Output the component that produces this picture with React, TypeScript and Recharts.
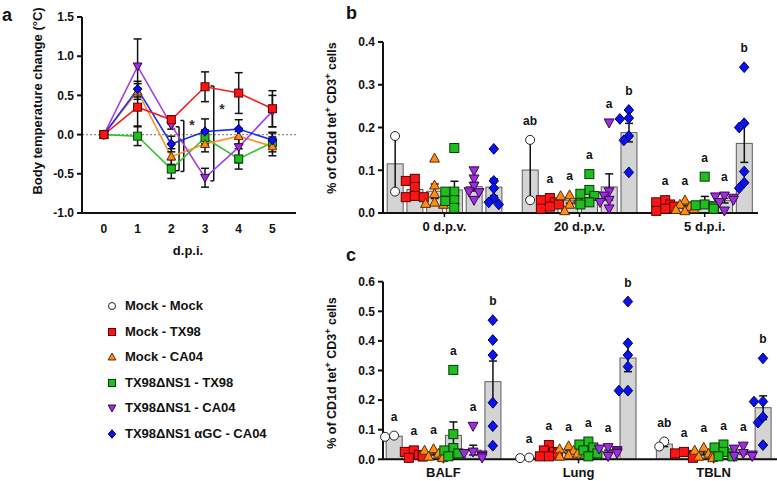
import React from 'react';
import {
  LineChart, Line, XAxis, YAxis, ErrorBar, ReferenceLine, ReferenceDot,
  ComposedChart, Bar, Scatter, Label,
} from 'recharts';

const FONT = '"Liberation Sans", Arial, Helvetica, sans-serif';
const INK = '#111';

// ---------- panel a: body temperature change (mean, SEM) ----------
const dpi = [0, 1, 2, 3, 4, 5];
const tempMockTX98 = [0, 0.35, 0.19, 0.61, 0.53, 0.33];
const tempMockTX98Err = [0, 0.24, 0.05, 0.19, 0.26, 0.23];
const tempMockCA04 = [0, 0.55, -0.28, -0.12, -0.02, -0.15];
const tempMockCA04Err = [0, 0.1, 0.1, 0.1, 0.1, 0.12];
const tempNsTX98 = [0, -0.02, -0.44, -0.04, -0.31, -0.1];
const tempNsTX98Err = [0, 0.12, 0.12, 0.1, 0.13, 0.12];
const tempNsCA04 = [0, 0.87, 0.12, -0.55, -0.16, 0.3];
const tempNsCA04Err = [0, 0.35, 0.05, 0.12, 0.2, 0.2];
const tempNsAgc = [0, 0.58, -0.12, 0.04, 0.07, -0.07];
const tempNsAgcErr = [0, 0.1, 0.1, 0.16, 0.12, 0.1];

// ---------- panel b: % CD1d tet+ CD3+ in blood (individual animals) ----------
const bCategories = ['0 d.p.v.', '20 d.p.v.', '5 d.p.i.'];
const bMockMock = [[0.18, 0.05], [0.171, 0.03], null];
const bMockTX98 = [[0.08, 0.075, 0.061, 0.04, 0.037, 0.037], [0.035, 0.03, 0.025, 0.02, 0.015, 0.01], [0.03, 0.025, 0.02, 0.015, 0.01, 0.005]];
const bMockCA04 = [[0.128, 0.065, 0.045, 0.025, 0.022, 0.02], [0.042, 0.04, 0.035, 0.03, 0.02, 0.005], [0.03, 0.02, 0.015, 0.01, 0.008, 0.005]];
const bNsTX98 = [[0.152, 0.05, 0.05, 0.03, 0.028, 0.012], [0.091, 0.054, 0.045, 0.04, 0.025, 0.02], [0.085, 0.02, 0.018, 0.015, 0.015, 0.01]];
const bNsCA04 = [[0.099, 0.08, 0.063, 0.05, 0.048, 0.03], [0.211, 0.05, 0.04, 0.03, 0.025, 0.01], [0.04, 0.038, 0.035, 0.03, 0.025, 0.005]];
const bNsAgc = [[0.15, 0.075, 0.058, 0.035, 0.025, 0.02], [0.241, 0.222, 0.22, 0.18, 0.17, 0.095], [0.341, 0.21, 0.2, 0.097, 0.071, 0.058]];
const bLetters = [['', '', '', '', '', ''], ['ab', 'a', 'a', 'a', 'a', 'b'], ['', 'a', 'a', 'a', 'a', 'b']];

// ---------- panel c: % CD1d tet+ CD3+ in tissues ----------
const cCategories = ['BALF', 'Lung', 'TBLN'];
const cMockMock = [[0.08, 0.076], [0.006, 0.004], [0.06, 0.043]];
const cMockTX98 = [[0.03, 0.025, 0.015, 0.01, 0.01, 0.005], [0.048, 0.03, 0.025, 0.02, 0.01, 0.01], [0.025, 0.02, 0.015, 0.01, 0.008, 0.005]];
const cMockCA04 = [[0.035, 0.03, 0.02, 0.015, 0.01, 0.005], [0.045, 0.035, 0.03, 0.02, 0.015, 0.01], [0.04, 0.03, 0.02, 0.015, 0.01, 0.005]];
const cNsTX98 = [[0.302, 0.085, 0.038, 0.03, 0.02, 0.01], [0.06, 0.05, 0.04, 0.03, 0.02, 0.01], [0.05, 0.04, 0.025, 0.02, 0.01, 0.01]];
const cNsCA04 = [[0.112, 0.025, 0.02, 0.015, 0.01, 0.005], [0.04, 0.035, 0.03, 0.025, 0.02, 0.01], [0.045, 0.035, 0.02, 0.015, 0.01, 0.01]];
const cNsAgc = [[0.47, 0.403, 0.352, 0.191, 0.112, 0.046], [0.533, 0.392, 0.352, 0.313, 0.232, 0.232], [0.341, 0.195, 0.195, 0.143, 0.124, 0.048]];
const cLetters = [['a', 'a', 'a', 'a', 'a', 'b'], ['a', 'a', 'a', 'a', 'a', 'b'], ['ab', 'a', 'a', 'a', 'a', 'b']];

type SeriesKey = 'mockMock' | 'mockTX98' | 'mockCA04' | 'nsTX98' | 'nsCA04' | 'nsAgc';
const seriesOrder: SeriesKey[] = ['mockMock', 'mockTX98', 'mockCA04', 'nsTX98', 'nsCA04', 'nsAgc'];
const seriesLabels = ['Mock - Mock', 'Mock - TX98', 'Mock - CA04', 'TX98\u0394NS1 - TX98', 'TX98\u0394NS1 - CA04', 'TX98\u0394NS1 \u03b1GC - CA04'];

const STYLE: Record<SeriesKey, { fill: string; stroke: string; line: string; shape: string }> = {
  mockMock: { fill: '#ffffff', stroke: '#222222', line: '#222222', shape: 'circle' },
  mockTX98: { fill: '#ff1414', stroke: '#5a0000', line: '#f21d1d', shape: 'square' },
  mockCA04: { fill: '#ff8c17', stroke: '#5a2e00', line: '#ff8f26', shape: 'up' },
  nsTX98: { fill: '#1fbd1f', stroke: '#063d06', line: '#2fc42f', shape: 'square' },
  nsCA04: { fill: '#a12be0', stroke: '#35084f', line: '#a63ee2', shape: 'down' },
  nsAgc: { fill: '#0a12f2', stroke: '#000050', line: '#1a2ef2', shape: 'diamond' },
};

const Marker = ({ cx, cy, k, s = 9 }: any) => {
  if (cx == null || cy == null || isNaN(cx) || isNaN(cy)) return null;
  const st = STYLE[k as SeriesKey];
  const c = { fill: st.fill, stroke: st.stroke, strokeWidth: 1 };
  const h = s / 2;
  switch (st.shape) {
    case 'circle':
      return <circle cx={cx} cy={cy} r={h} {...c} />;
    case 'square':
      return <rect x={cx - h} y={cy - h} width={s} height={s} {...c} />;
    case 'up':
      return <polygon points={`${cx},${cy - h * 1.15} ${cx + h * 1.1},${cy + h * 0.85} ${cx - h * 1.1},${cy + h * 0.85}`} {...c} />;
    case 'down':
      return <polygon points={`${cx},${cy + h * 1.15} ${cx + h * 1.1},${cy - h * 0.85} ${cx - h * 1.1},${cy - h * 0.85}`} {...c} />;
    default:
      return <polygon points={`${cx},${cy - h * 1.2} ${cx + h * 1.05},${cy} ${cx},${cy + h * 1.2} ${cx - h * 1.05},${cy}`} {...c} />;
  }
};

const tickStyle = { fill: INK, fontSize: 12, fontWeight: 700, fontFamily: FONT };
const axisLine = { stroke: INK, strokeWidth: 2 };

// ---------- panel a rows ----------
const tempSeries: { k: SeriesKey; v: number[]; e: number[] }[] = [
  { k: 'nsTX98', v: tempNsTX98, e: tempNsTX98Err },
  { k: 'mockCA04', v: tempMockCA04, e: tempMockCA04Err },
  { k: 'nsCA04', v: tempNsCA04, e: tempNsCA04Err },
  { k: 'nsAgc', v: tempNsAgc, e: tempNsAgcErr },
  { k: 'mockTX98', v: tempMockTX98, e: tempMockTX98Err },
];
const tempRows = dpi.map((d, i) => {
  const r: any = { day: d };
  tempSeries.forEach((s) => {
    r[s.k] = s.v[i];
    r[s.k + 'Err'] = s.e[i];
  });
  return r;
});

// significance brackets and stars
const brackets = [
  { x: 2.23, top: 0.1, bottom: -0.46 },
  { x: 2.37, top: 0.18, bottom: -0.47 },
  { x: 3.26, top: 0.62, bottom: -0.59 },
];
const stars = [
  { x: 2.61, y: 0.14 },
  { x: 3.5, y: 0.34 },
];

// ---------- bar panels ----------
const STRIDE = 6.84; // slots between group starts
const BAR_W = 16;

// simple beeswarm: horizontal pixel offsets so markers don't pile up
function swarm(values: number[], pxPerUnit: number) {
  const order = values.map((_, i) => i).sort((a, b) => values[b] - values[a]);
  const placed: { dx: number; y: number }[] = [];
  const out = new Array(values.length).fill(0);
  const cands = [0, -5, 5, -9, 9];
  for (const i of order) {
    const y = values[i] * pxPerUnit;
    let pick = cands[cands.length - 1];
    for (const c of cands) {
      if (placed.every((p) => Math.hypot(p.dx - c, p.y - y) >= 6.5)) {
        pick = c;
        break;
      }
    }
    placed.push({ dx: pick, y });
    out[i] = pick;
  }
  return out;
}

function buildPanel(cats: string[], per: (number[] | null)[][], letters: string[][], pxPerUnit: number) {
  const bars: any[] = [];
  const pts: Record<string, any[]> = {};
  seriesOrder.forEach((k) => (pts[k] = []));
  const labels: any[] = [];
  const centers: number[] = [];
  cats.forEach((_, g) => {
    let slot = 0;
    seriesOrder.forEach((k, si) => {
      const vals = per[si][g];
      if (!vals) return;
      const x = g * STRIDE + slot;
      slot++;
      const n = vals.length;
      const mean = vals.reduce((a, b) => a + b, 0) / n;
      const sd = Math.sqrt(vals.reduce((a, b) => a + (b - mean) ** 2, 0) / (n - 1));
      const sem = sd / Math.sqrt(n);
      bars.push({ x, y: mean, sem });
      const offs = swarm(vals, pxPerUnit);
      vals.forEach((v, i) => pts[k].push({ x, y: v, dx: offs[i] }));
      const lab = letters[g][si];
      if (lab) labels.push({ x, y: Math.max(...vals, mean + sem), lab });
    });
    centers.push(g * STRIDE + (slot - 1) / 2);
  });
  return { bars, pts, labels, centers };
}

const panelB = buildPanel(bCategories, [bMockMock, bMockTX98, bMockCA04, bNsTX98, bNsCA04, bNsAgc], bLetters, 427.5);
const panelC = buildPanel(cCategories, [cMockMock, cMockTX98, cMockCA04, cNsTX98, cNsCA04, cNsAgc], cLetters, 296);

const LetterShape = (p: any) => (
  <text x={p.cx} y={p.cy - 15} textAnchor="middle" fill={INK} fontSize={12} fontWeight={700} fontFamily={FONT}>
    {p.payload.lab}
  </text>
);

const BarShape = (p: any) => {
  if (p.height == null || isNaN(p.y)) return null;
  const mid = p.x + p.width / 2;
  return <rect x={mid - BAR_W / 2} y={p.y} width={BAR_W} height={p.height} fill="#d4d4d4" stroke="#5c5c5c" strokeWidth={1} />;
};

function BarPanel({ panel, cats, domainX, yMax, yTicks, width, height, margin, xHeight, tickMargin }: any) {
  return (
    <ComposedChart width={width} height={height} data={panel.bars} margin={margin}>
      <XAxis type="number" dataKey="x" domain={domainX} ticks={panel.centers}
        tickFormatter={(v: number) => cats[panel.centers.indexOf(v)] ?? ''}
        height={xHeight} axisLine={axisLine} tickLine={{ stroke: INK, strokeWidth: 1.5 }} tickSize={4} tickMargin={tickMargin}
        tick={{ ...tickStyle, fontSize: 13 }} interval={0} />
      <YAxis type="number" dataKey="y" domain={[0, yMax]} ticks={yTicks}
        tickFormatter={(v: number) => v.toFixed(1)} width={40} axisLine={axisLine}
        tickLine={{ stroke: INK, strokeWidth: 2 }} tickSize={5} tickMargin={3} tick={tickStyle} />
      <Bar dataKey="y" barSize={BAR_W} shape={BarShape} isAnimationActive={false}>
        <ErrorBar dataKey="sem" width={4} stroke={INK} strokeWidth={1.5} />
      </Bar>
      {seriesOrder.map((k) => (
        <Scatter key={k} data={panel.pts[k]} isAnimationActive={false}
          shape={(p: any) => <Marker cx={p.cx + (p.payload?.dx ?? 0)} cy={p.cy} k={k} s={9} />} />
      ))}
      <Scatter data={panel.labels} isAnimationActive={false} shape={LetterShape} />
    </ComposedChart>
  );
}

// rotated y-axis title for panels b and c (HTML, rotated with CSS), centred at (cx, cy)
const CellsTitle = ({ cx, cy }: { cx: number; cy: number }) => (
  <div style={{
    position: 'absolute', left: cx - 100, top: cy - 9, width: 200, height: 18, lineHeight: '18px',
    textAlign: 'center', transform: 'rotate(-90deg)', transformOrigin: '50% 50%',
    fontSize: 12.5, fontWeight: 700, color: INK, whiteSpace: 'nowrap',
  }}>
    % of CD1d tet<sup style={{ fontSize: 9, lineHeight: 0 }}>+</sup> CD3<sup style={{ fontSize: 9, lineHeight: 0 }}>+</sup> cells
  </div>
);

const panelLetter = (txt: string, left: number, top: number) => (
  <div style={{ position: 'absolute', left, top, fontSize: 18, fontWeight: 700, lineHeight: '18px', color: INK }}>{txt}</div>
);

export default function App() {
  return (
    <div style={{ position: 'absolute', left: 0, top: 0, width: 777, height: 481, overflow: 'hidden', background: '#fff', fontFamily: FONT }}>
      {panelLetter('a', 2, 6)}
      {panelLetter('b', 346, 4)}
      {panelLetter('c', 346, 246)}

      <div style={{ position: 'absolute', left: 0, top: 0 }}>
        <LineChart width={300} height={270} data={tempRows} margin={{ top: 17, right: 4, bottom: 32, left: 42 }}>
          <XAxis type="number" dataKey="day" domain={[-0.65, 5.7]} allowDataOverflow ticks={dpi} height={25}
            axisLine={axisLine} tickLine={false} tickSize={6} tickMargin={5} tick={tickStyle} interval={0}>
            <Label content={() => (
              <text x={188} y={255} textAnchor="middle" fill={INK} fontSize={13} fontWeight={700} fontFamily={FONT}>d.p.i.</text>
            )} />
          </XAxis>
          <YAxis type="number" domain={[-1, 1.5]} allowDataOverflow ticks={[-1, -0.5, 0, 0.5, 1, 1.5]}
            tickFormatter={(v: number) => v.toFixed(1)} width={40} axisLine={axisLine}
            tickLine={{ stroke: INK, strokeWidth: 2 }} tickSize={5} tickMargin={3} tick={tickStyle} interval={0}>
            <Label content={() => (
              <text transform="translate(37,101) rotate(-90)" textAnchor="middle" dominantBaseline="central"
                fill={INK} fontSize={13} fontWeight={700} fontFamily={FONT}>Body temperature change (°C)</text>
            )} />
          </YAxis>
          <ReferenceLine y={0} stroke="#8c8c8c" strokeDasharray="2 2" strokeWidth={1.2} />
          {brackets.flatMap((b, i) => [
            <ReferenceLine key={`bv${i}`} segment={[{ x: b.x, y: b.top }, { x: b.x, y: b.bottom }]} stroke={INK} strokeWidth={1.5} />,
            <ReferenceLine key={`bt${i}`} segment={[{ x: b.x - 0.1, y: b.top }, { x: b.x, y: b.top }]} stroke={INK} strokeWidth={1.5} />,
            <ReferenceLine key={`bb${i}`} segment={[{ x: b.x - 0.1, y: b.bottom }, { x: b.x, y: b.bottom }]} stroke={INK} strokeWidth={1.5} />,
          ])}
          {stars.map((s, i) => (
            <ReferenceDot key={`s${i}`} x={s.x} y={s.y} r={0}
              shape={(p: any) => (
                <text x={p.cx} y={p.cy + 6} textAnchor="middle" fill="#333" fontSize={14} fontWeight={700} fontFamily={FONT}>*</text>
              )} />
          ))}
          {tempSeries.map((s) => (
            <Line key={s.k} type="linear" dataKey={s.k} stroke={STYLE[s.k].line} strokeWidth={1.6}
              isAnimationActive={false} activeDot={false}
              dot={(p: any) => <Marker key={`${s.k}-${p.index}`} cx={p.cx} cy={p.cy} k={s.k} s={8} />}>
              <ErrorBar dataKey={s.k + 'Err'} width={4} stroke={INK} strokeWidth={1.5} />
            </Line>
          ))}
        </LineChart>
      </div>

      {seriesOrder.map((k, i) => (
        <div key={k} style={{ position: 'absolute', left: 106, top: 306 + i * 25.5 - 8, height: 16, display: 'flex', alignItems: 'center' }}>
          <svg width={12} height={12} style={{ overflow: 'visible' }}>
            <Marker cx={6} cy={6} k={k} s={7} />
          </svg>
          <span style={{ marginLeft: 7, fontSize: 13, fontWeight: 700, color: INK, whiteSpace: 'nowrap', lineHeight: '16px' }}>
            {seriesLabels[i]}
          </span>
        </div>
      ))}

      <div style={{ position: 'absolute', left: 300, top: 0 }}>
        <BarPanel panel={panelB} cats={bCategories} domainX={[-0.61, 18.38]} yMax={0.4}
          yTicks={[0, 0.1, 0.2, 0.3, 0.4]} width={477} height={250}
          margin={{ top: 42, right: 19, bottom: 12, left: 43 }} xHeight={25} tickMargin={5} />
      </div>
      <div style={{ position: 'absolute', left: 300, top: 240 }}>
        <BarPanel panel={panelC} cats={cCategories} domainX={[-0.56, 19.39]} yMax={0.6}
          yTicks={[0, 0.1, 0.2, 0.3, 0.4, 0.5, 0.6]} width={477} height={241}
          margin={{ top: 41.7, right: 0, bottom: 1.7, left: 43 }} xHeight={20} tickMargin={4} />
      </div>
      <CellsTitle cx={332} cy={118} />
      <CellsTitle cx={332} cy={373} />
    </div>
  );
}
